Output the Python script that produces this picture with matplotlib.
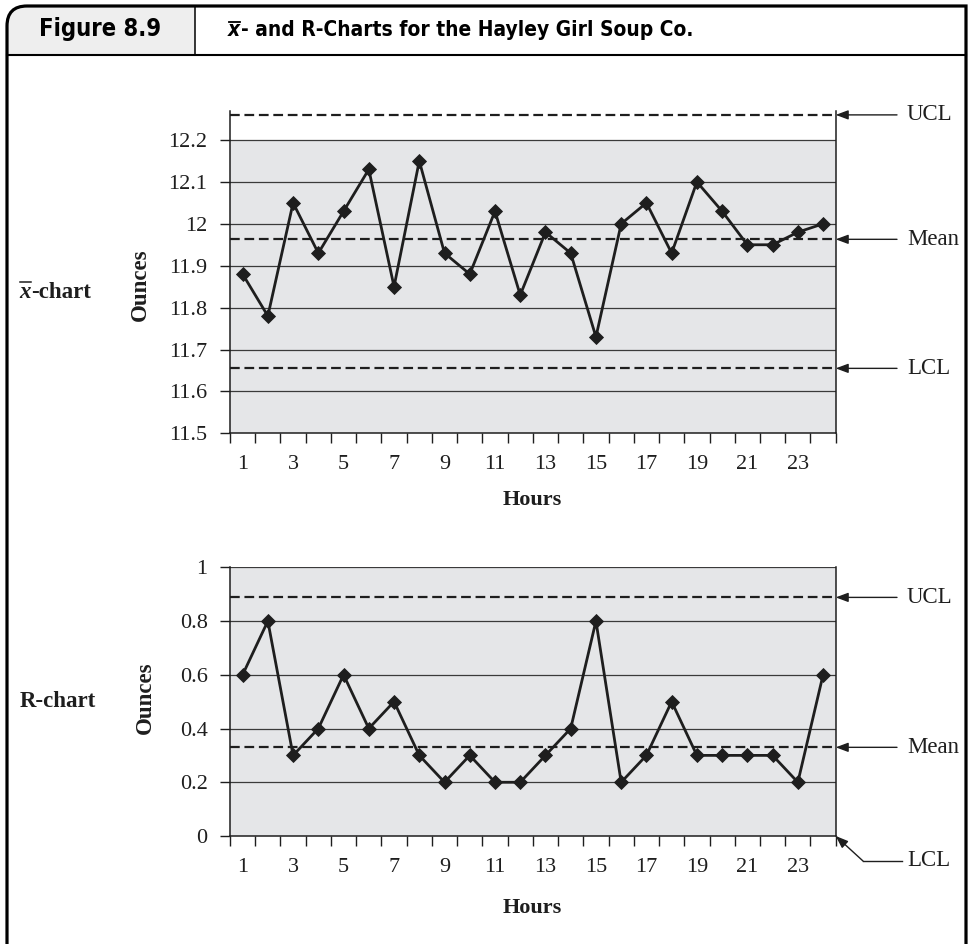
import numpy as np
import matplotlib
matplotlib.use("Agg")
import matplotlib.pyplot as plt
from matplotlib.path import Path
from matplotlib.patches import PathPatch
from matplotlib.lines import Line2D
from matplotlib.transforms import Affine2D, blended_transform_factory

# ---- data -------------------------------------------------------------
hours = np.arange(1, 25)
xbar_oz = [11.88, 11.78, 12.05, 11.93, 12.03, 12.13, 11.85, 12.15, 11.93, 11.88,
           12.03, 11.83, 11.98, 11.93, 11.73, 12.00, 12.05, 11.93, 12.10, 12.03,
           11.95, 11.95, 11.98, 12.00]
range_oz = [0.6, 0.8, 0.3, 0.4, 0.6, 0.4, 0.5, 0.3, 0.2, 0.3, 0.2, 0.2,
            0.3, 0.4, 0.8, 0.2, 0.3, 0.5, 0.3, 0.3, 0.3, 0.3, 0.2, 0.6]

xbar_ucl, xbar_mean, xbar_lcl = 12.26, 11.963, 11.655
r_ucl, r_mean, r_lcl = 0.888, 0.33, 0.0

xbar_ticks = [11.5, 11.6, 11.7, 11.8, 11.9, 12.0, 12.1, 12.2]
xbar_ticklabels = ["11.5", "11.6", "11.7", "11.8", "11.9", "12", "12.1", "12.2"]
r_ticks = [0.0, 0.2, 0.4, 0.6, 0.8, 1.0]
r_ticklabels = ["0", "0.2", "0.4", "0.6", "0.8", "1"]
hour_labels = list(range(1, 24, 2))

# ---- styling ----------------------------------------------------------
plt.rcParams["lines.scale_dashes"] = False
SERIF = ["Liberation Serif", "DejaVu Serif"]
SANS_COND = ["DejaVu Sans"]
INK = "#1e1e1e"
SHADE = "#e5e6e8"
GRID = "#3a3a3a"
DASH = (7.0, 3.4)
ARROW = "-|>,head_length=0.75,head_width=0.28"

W, H = 972, 944
fig = plt.figure(figsize=(W / 100, H / 100), dpi=100)
pix = Affine2D().scale(1 / W, -1 / H).translate(0, 1) + fig.transFigure
renderer = fig.canvas.get_renderer()


def px(x, y):
    return (x / W, 1 - y / H)


def axes_rect(left, right, top, bottom):
    return [left / W, 1 - bottom / H, (right - left) / W, (bottom - top) / H]


def style_axes(ax, ticks, ticklabels, ymax, shade_top):
    ymin = ticks[0]
    ax.set_xlim(0.5, 24.5)
    ax.set_ylim(ymin, ymax)
    ax.set_facecolor("none")
    ax.axhspan(ymin, shade_top, color=SHADE, lw=0, zorder=0)
    for t in ticks[1:]:
        ax.axhline(t, color=GRID, lw=0.9, zorder=1)
    ax.spines["top"].set_visible(False)
    for side in ("left", "right", "bottom"):
        ax.spines[side].set_color(INK)
        ax.spines[side].set_linewidth(1.1)
    ax.set_yticks(ticks)
    ax.set_yticklabels(ticklabels, fontfamily=SERIF, fontsize=16, color=INK)
    ax.tick_params(axis="y", direction="out", length=7.2, width=1.0,
                   color=INK, pad=9)
    ax.set_xticks(hour_labels)
    ax.set_xticklabels([str(h) for h in hour_labels], fontfamily=SERIF,
                       fontsize=16, color=INK)
    ax.set_xticks(np.arange(0.5, 25, 1.0), minor=True)
    ax.tick_params(axis="x", which="major", length=0, pad=15.5)
    ax.tick_params(axis="x", which="minor", direction="out", length=7.2,
                   width=1.0, color=INK)


def plot_series(ax, values):
    ax.plot(hours, values, color=INK, lw=2.0, marker="D", ms=7.6,
            mfc=INK, mec=INK, mew=0.6, zorder=5, clip_on=False)


def limit_line(ax, value):
    ax.axhline(value, color=INK, lw=1.6, dashes=DASH, zorder=3)


def limit_arrow(ax, value, label):
    tr = blended_transform_factory(fig.transFigure, ax.transData)
    ax.annotate("", xy=(1, value), xycoords=ax.get_yaxis_transform(),
                xytext=(897 / W, value), textcoords=tr,
                arrowprops=dict(arrowstyle=ARROW, color=INK, lw=1.0,
                                shrinkA=0, shrinkB=0),
                annotation_clip=False)
    ax.text(907 / W, value, label, transform=tr, ha="left", va="center",
            fontfamily=SERIF, fontsize=16.5, color=INK)


# ---- x-bar chart --------------------------------------------------------
ax1 = fig.add_axes(axes_rect(230, 835.7, 110.7, 433.3))
style_axes(ax1, xbar_ticks, xbar_ticklabels, 12.27, 12.2)
for v in (xbar_ucl, xbar_mean, xbar_lcl):
    limit_line(ax1, v)
plot_series(ax1, xbar_oz)
limit_arrow(ax1, xbar_ucl, "UCL")
limit_arrow(ax1, xbar_mean, "Mean")
limit_arrow(ax1, xbar_lcl, "LCL")

# ---- R chart ------------------------------------------------------------
ax2 = fig.add_axes(axes_rect(230, 835.7, 567.3, 836.0))
style_axes(ax2, r_ticks, r_ticklabels, 1.0, 1.0)
for v in (r_ucl, r_mean):
    limit_line(ax2, v)
plot_series(ax2, range_oz)
limit_arrow(ax2, r_ucl, "UCL")
limit_arrow(ax2, r_mean, "Mean")
# LCL sits on the bottom axis: bent leader line
fig.add_artist(Line2D([901.5, 863], [861, 861], transform=pix, color=INK, lw=1.0))
ax2.annotate("", xy=(1, r_lcl), xycoords=ax2.get_yaxis_transform(),
             xytext=px(863, 861), textcoords="figure fraction",
             arrowprops=dict(arrowstyle=ARROW, color=INK, lw=1.0,
                             shrinkA=0, shrinkB=0),
             annotation_clip=False)
fig.text(907 / W, 1 - 861 / H, "LCL", ha="left", va="center",
         fontfamily=SERIF, fontsize=16.5, color=INK)

# ---- axis titles ----------------------------------------------------------
for yc in (500, 908):
    fig.text(532 / W, 1 - yc / H, "Hours", ha="center", va="center",
             fontfamily=SERIF, fontweight="bold", fontsize=16, color=INK)
fig.text(140 / W, 1 - 285 / H, "Ounces", rotation=90, ha="center", va="center",
         fontfamily=SERIF, fontweight="bold", fontsize=16.5, color=INK)
fig.text(145 / W, 1 - 698 / H, "Ounces", rotation=90, ha="center", va="center",
         fontfamily=SERIF, fontweight="bold", fontsize=16.5, color=INK)

# row labels: x-bar chart and R chart
xt = fig.text(19 / W, 1 - 298.3 / H, "x", ha="left", va="baseline",
              fontfamily=SERIF, fontstyle="italic", fontweight="bold",
              fontsize=16.5, color=INK)
bb = xt.get_window_extent(renderer)
fig.text((bb.x1 + 1) / W, 1 - 298.3 / H, "-chart", ha="left", va="baseline",
         fontfamily=SERIF, fontweight="bold", fontsize=16.5, color=INK)
fig.add_artist(Line2D([19.5, 30.5], [282, 282], transform=pix, color=INK, lw=1.1))
fig.text(20 / W, 1 - 707 / H, "R-chart", ha="left", va="baseline",
         fontfamily=SERIF, fontweight="bold", fontsize=16.5, color=INK)

# ---- header panel ---------------------------------------------------------
r = 20
frame = Path([(7, H + 6), (7, 6 + r), (7, 6), (7 + r, 6), (966, 6), (966, H + 6)],
             [Path.MOVETO, Path.LINETO, Path.CURVE3, Path.CURVE3, Path.LINETO, Path.LINETO])
tab = Path([(7, 55), (7, 6 + r), (7, 6), (7 + r, 6), (195, 6), (195, 55), (7, 55)],
           [Path.MOVETO, Path.LINETO, Path.CURVE3, Path.CURVE3, Path.LINETO,
            Path.LINETO, Path.CLOSEPOLY])
fig.add_artist(PathPatch(tab, transform=pix, facecolor="#eeeeee", lw=0, zorder=0))
fig.add_artist(PathPatch(frame, transform=pix, fill=False, ec="black", lw=2.3,
                         joinstyle="miter", zorder=3))
fig.add_artist(Line2D([7, 966], [55, 55], transform=pix, color="black", lw=1.5))
fig.add_artist(Line2D([195, 195], [6, 55], transform=pix, color="black", lw=1.1))

fig.text(39 / W, 1 - 36 / H, "Figure 8.9", ha="left", va="baseline",
         fontfamily=SANS_COND, fontstretch="condensed", fontweight="bold",
         fontsize=17, color="black")
hx = fig.text(228 / W, 1 - 36 / H, "x", ha="left", va="baseline",
              fontfamily=SANS_COND, fontstretch="condensed", fontweight="bold",
              fontstyle="italic", fontsize=15, color="black")
hb = hx.get_window_extent(renderer)
fig.text((hb.x1 + 0.5) / W, 1 - 36 / H, "- and R-Charts for the Hayley Girl Soup Co.",
         ha="left", va="baseline", fontfamily=SANS_COND, fontstretch="condensed",
         fontweight="bold", fontsize=15, color="black")
fig.add_artist(Line2D([229, 240], [22, 22], transform=pix, color="black", lw=1.3))

fig.savefig("out.png", dpi=100)
